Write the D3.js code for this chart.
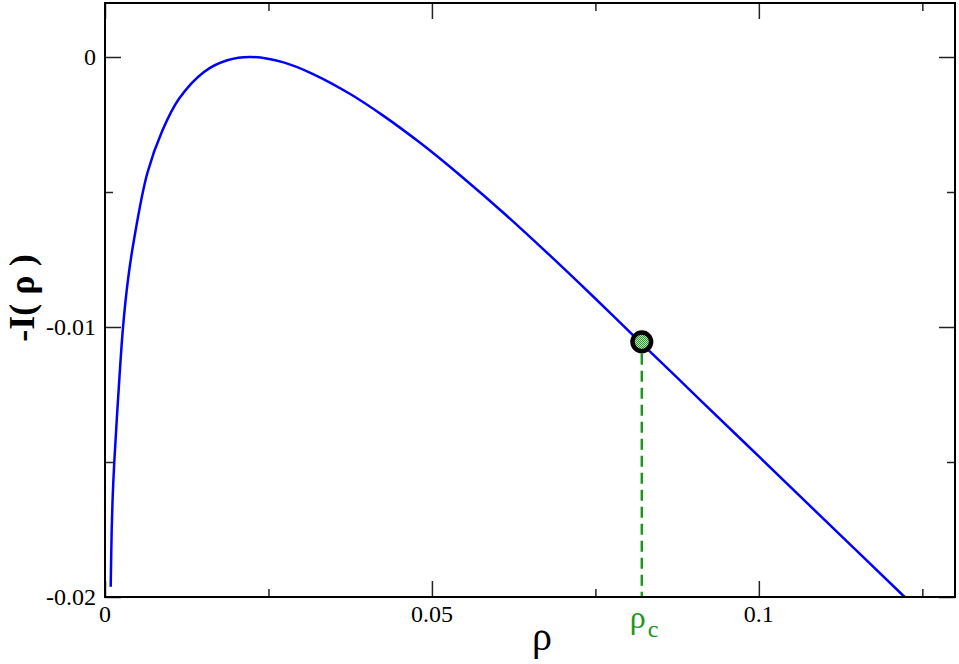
<!DOCTYPE html>
<html>
<head>
<meta charset="utf-8">
<script src="https://cdn.jsdelivr.net/npm/d3@7"></script>
<style>
  html, body { margin: 0; padding: 0; background: #fff; }
  svg { display: block; }
  text { font-family: "Liberation Serif", "Tinos", "DejaVu Serif", serif; }
</style>
</head>
<body>
<svg id="chart" width="959" height="664"></svg>
<script>
// ---- data ----
const rho = [0.000872, 0.001024, 0.001193, 0.001422, 0.002018, 0.002752, 0.003517, 0.004434, 0.006468, 0.008761, 0.011315, 0.015138, 0.018700, 0.022278, 0.0273, 0.0319, 0.0375, 0.0426, 0.0482, 0.0543, 0.0614, 0.0680, 0.0747, 0.0818, 0.0879, 0.0910, 0.1002, 0.1114, 0.1223];
const negI = [-0.01962, -0.01752, -0.01619, -0.01499, -0.01259, -0.01002, -0.008247, -0.006767, -0.004305, -0.002732, -0.001547, -0.000552, -0.000122, 0, -0.0002, -0.00064, -0.00137, -0.00218, -0.00318, -0.00438, -0.00587, -0.00734, -0.00888, -0.01055, -0.01197, -0.01270, -0.01484, -0.01746, -0.0200];
const rhoC = [0.0821];
const negIC = [-0.01055];
const xMajorTicks = [0, 0.05, 0.1];
const xMinorTicks = [0.025, 0.075, 0.125];
const yMajorTicks = [0, -0.01, -0.02];
const yMinorTicks = [-0.005, -0.015];
const xTickLabels = ["0", "0.05", "0.1"];
const yTickLabels = ["0", "-0.01", "-0.02"];

// ---- layout ----
const pL = 105, pR = 955, pT = 3, pB = 597;
const svg = d3.select("#chart");
const x = d3.scaleLinear().domain([0, 0.13]).range([pL, pR]);
const y = d3.scaleLinear().domain([-0.02, 0.002]).range([pB, pT]);

// pattern for the point fill
const defs = svg.append("defs");
const pat = defs.append("pattern").attr("id", "chk").attr("width", 2).attr("height", 2)
  .attr("patternUnits", "userSpaceOnUse");
pat.append("rect").attr("width", 2).attr("height", 2).attr("fill", "#b4e2b4");
pat.append("rect").attr("width", 1).attr("height", 1).attr("fill", "#2f9a2f");
pat.append("rect").attr("x", 1).attr("y", 1).attr("width", 1).attr("height", 1).attr("fill", "#2f9a2f");

// curve
const line = d3.line().x((d, i) => x(rho[i])).y((d, i) => y(negI[i])).curve(d3.curveCatmullRom.alpha(0.5));
svg.append("path").datum(rho).attr("d", line)
  .attr("fill", "none").attr("stroke", "#0000ff").attr("stroke-width", 2.5);

// dashed line from point to axis
svg.append("line")
  .attr("x1", x(rhoC[0])).attr("x2", x(rhoC[0]))
  .attr("y1", y(negIC[0]) + 12).attr("y2", pB)
  .attr("stroke", "#1e961e").attr("stroke-width", 2.5).attr("stroke-dasharray", "11,6");

// point
svg.append("circle").attr("cx", x(rhoC[0])).attr("cy", y(negIC[0])).attr("r", 9.3)
  .attr("fill", "url(#chk)").attr("stroke", "#000").attr("stroke-width", 4.5);

// axes (ticks inward on all sides)
const tickCol = "#222";
function axisTicks(axisGen, transform) {
  const g = svg.append("g").attr("transform", transform).call(axisGen);
  g.select(".domain").remove();
  g.selectAll("line").attr("stroke", tickCol).attr("stroke-width", 1.5);
  return g;
}
axisTicks(d3.axisTop(x).tickValues(xMajorTicks).tickSize(16).tickFormat(""), `translate(0,${pB})`);
axisTicks(d3.axisTop(x).tickValues(xMinorTicks).tickSize(8).tickFormat(""), `translate(0,${pB})`);
axisTicks(d3.axisBottom(x).tickValues(xMajorTicks).tickSize(16).tickFormat(""), `translate(0,${pT})`);
axisTicks(d3.axisBottom(x).tickValues(xMinorTicks).tickSize(8).tickFormat(""), `translate(0,${pT})`);
axisTicks(d3.axisRight(y).tickValues(yMajorTicks).tickSize(16).tickFormat(""), `translate(${pL},0)`);
axisTicks(d3.axisRight(y).tickValues(yMinorTicks).tickSize(8).tickFormat(""), `translate(${pL},0)`);
axisTicks(d3.axisLeft(y).tickValues(yMajorTicks).tickSize(16).tickFormat(""), `translate(${pR},0)`);
axisTicks(d3.axisLeft(y).tickValues(yMinorTicks).tickSize(8).tickFormat(""), `translate(${pR},0)`);

// frame
svg.append("rect").attr("x", pL).attr("y", pT).attr("width", pR - pL).attr("height", pB - pT)
  .attr("fill", "none").attr("stroke", "#000").attr("stroke-width", 2);

// tick labels
svg.append("g").selectAll("text").data(xMajorTicks).join("text")
  .attr("x", d => x(d)).attr("y", pB + 25)
  .attr("text-anchor", "middle").attr("font-size", 24)
  .text((d, i) => xTickLabels[i]);
svg.append("g").selectAll("text").data(yMajorTicks).join("text")
  .attr("x", pL - 9).attr("y", d => y(d) + 8)
  .attr("text-anchor", "end").attr("font-size", 24)
  .text((d, i) => yTickLabels[i]);

// axis titles
svg.append("text").attr("x", 542).attr("y", 650).attr("text-anchor", "middle")
  .attr("font-size", 40).text("ρ");
svg.append("text").attr("transform", "translate(34,298) rotate(-90)").attr("text-anchor", "middle")
  .attr("font-size", 36).attr("font-weight", "bold").text("-I( ρ )");

// rho_c label
const lc = svg.append("text").attr("x", x(rhoC[0]) - 12).attr("y", 628).attr("text-anchor", "start")
  .attr("fill", "#1e961e");
lc.append("tspan").attr("font-size", 32).text("ρ");
lc.append("tspan").attr("font-size", 24).attr("dy", 9).attr("dx", 2).text("c");
</script>
</body>
</html>
